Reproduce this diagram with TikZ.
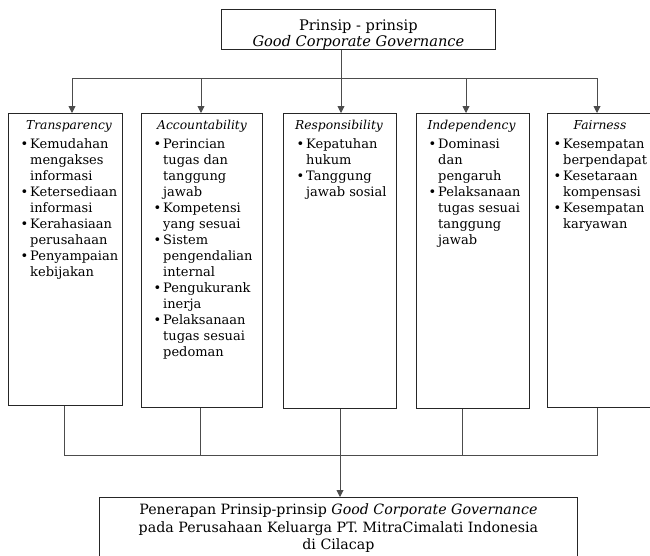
\documentclass[tikz,border=0pt]{standalone}
\usepackage{fontspec}
\setmainfont{DejaVu Serif}
\usetikzlibrary{arrows.meta,calc}
\newcommand{\bul}{\leavevmode\llap{\textbullet\hspace{2pt}}}
\begin{document}
\begin{tikzpicture}[x=1pt,y=-1pt,
  box/.style={draw=black!85, line width=0.8pt, inner sep=0, anchor=north west},
  conn/.style={draw=black!70, line width=0.9pt},
  arr/.style={conn, -{Triangle[length=7pt,width=7pt]}},
  txt/.style={inner sep=0, anchor=base west, font=\fontsize{13}{16}\selectfont},
  ttl/.style={inner sep=0, anchor=base, font=\fontsize{12.3}{16}\selectfont\itshape},
  ctxt/.style={inner sep=0, anchor=base},
]
\clip (0,0) rectangle (650,555);
\fill[white] (0,0) rectangle (650,555);

% top box
\node[box, minimum width=274, minimum height=40] (top) at (221,9) {};
\node[ctxt, font=\fontsize{14.6}{16.5}\selectfont] (topt) at ($(top.north)+(0,21)$)
  {\parbox[t]{270pt}{\centering Prinsip - prinsip\\\itshape Good Corporate Governance}};

% columns
\node[box, minimum width=114, minimum height=292] (T) at (8,113) {};
\node[ttl] (Tt) at ($(T.north west)+(61,16.5)$) {Transparency};
\node[txt] (Ti) at ($(T.north west)+(22,35)$) {\parbox[t]{100pt}{\raggedright
  \bul Kemudahan\\mengakses\\informasi\\
  \bul Ketersediaan\\informasi\\
  \bul Kerahasiaan\\perusahaan\\
  \bul Penyampaian\\kebijakan}};

\node[box, minimum width=121, minimum height=294] (A) at (141,113) {};
\node[ttl] (At) at ($(A.north west)+(61,16.5)$) {Accountability};
\node[txt] (Ai) at ($(A.north west)+(22,35)$) {\parbox[t]{100pt}{\raggedright
  \bul Perincian\\tugas dan\\tanggung\\jawab\\
  \bul Kompetensi\\yang sesuai\\
  \bul Sistem\\pengendalian\\internal\\
  \bul Pengukurank\\inerja\\
  \bul Pelaksanaan\\tugas sesuai\\pedoman}};

\node[box, minimum width=113, minimum height=295] (R) at (283,113) {};
\node[ttl] (Rt) at ($(R.north west)+(56,16.5)$) {Responsibility};
\node[txt] (Ri) at ($(R.north west)+(23,35)$) {\parbox[t]{100pt}{\raggedright
  \bul Kepatuhan\\hukum\\
  \bul Tanggung\\jawab sosial}};

\node[box, minimum width=113, minimum height=295] (I) at (416,113) {};
\node[ttl] (It) at ($(I.north west)+(55.5,16.5)$) {Independency};
\node[txt] (Ii) at ($(I.north west)+(22,35)$) {\parbox[t]{100pt}{\raggedright
  \bul Dominasi\\dan\\pengaruh\\
  \bul Pelaksanaan\\tugas sesuai\\tanggung\\jawab}};

\node[box, minimum width=115, minimum height=294] (F) at (547,113) {};
\node[ttl] (Ft) at ($(F.north west)+(53,16.5)$) {Fairness};
\node[txt] (Fi) at ($(F.north west)+(16,35)$) {\parbox[t]{100pt}{\raggedright
  \bul Kesempatan\\berpendapat\\
  \bul Kesetaraan\\kompensasi\\
  \bul Kesempatan\\karyawan}};

% bottom box
\node[box, minimum width=478, minimum height=70] (bot) at (99,497) {};
\node[ctxt, font=\fontsize{14.2}{17.5}\selectfont] (bott) at ($(bot.north)+(0,17.5)$)
  {\parbox[t]{476pt}{\centering Penerapan Prinsip-prinsip \textit{Good Corporate Governance}\\
   pada Perusahaan Keluarga PT. MitraCimalati Indonesia\\di Cilacap}};

% top connectors
\coordinate (hub) at (341,78);
\coordinate (h1) at (72,78);
\coordinate (h2) at (201,78);
\coordinate (h4) at (466,78);
\coordinate (h5) at (597,78);
\draw[conn] (top.south -| hub) -- (hub);
\draw[conn] (h1) -- (h5);
\draw[arr] (h1) -- (h1 |- T.north);
\draw[arr] (h2) -- (h2 |- A.north);
\draw[arr] (hub) -- (hub |- R.north);
\draw[arr] (h4) -- (h4 |- I.north);
\draw[arr] (h5) -- (h5 |- F.north);

% bottom connectors
\coordinate (b1) at (64,455);
\coordinate (b2) at (200,455);
\coordinate (b3) at (340,455);
\coordinate (b4) at (462,455);
\coordinate (b5) at (597,455);
\draw[conn] (b1 |- T.south) -- (b1) -- (b5) -- (b5 |- F.south);
\draw[conn] (b2 |- A.south) -- (b2);
\draw[conn] (b3 |- R.south) -- (b3);
\draw[conn] (b4 |- I.south) -- (b4);
\draw[arr] (b3) -- (b3 |- bot.north);
\end{tikzpicture}
\end{document}
